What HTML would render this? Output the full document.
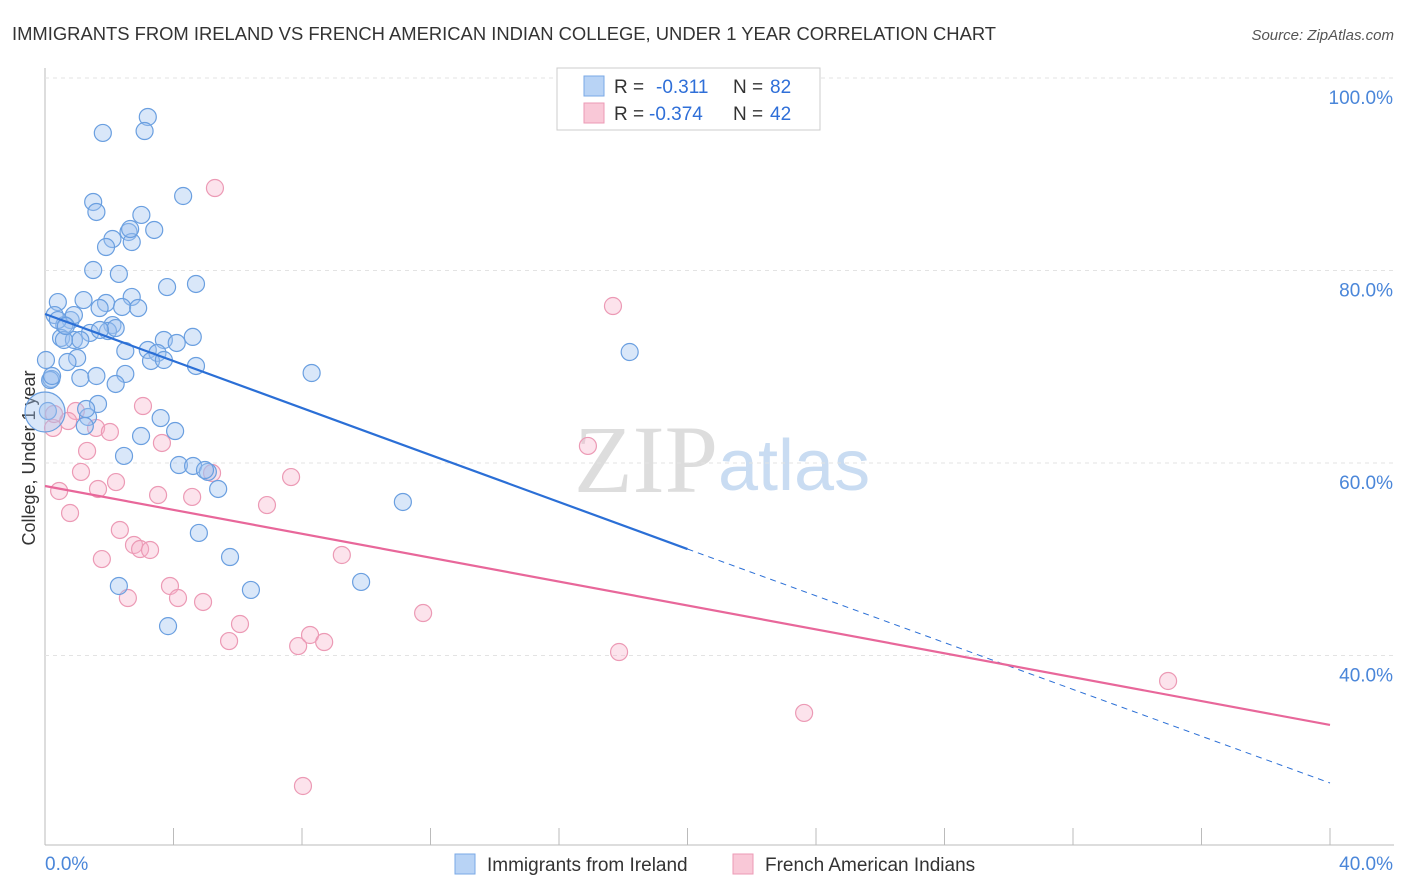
<!DOCTYPE html>
<html><head><meta charset="utf-8">
<style>
body{margin:0;background:#fff;font-family:"Liberation Sans",sans-serif;}
#wrap{position:relative;width:1406px;height:892px;overflow:hidden;}
</style></head>
<body>
<div id="wrap">
<svg id="svg" width="1406" height="892" xmlns="http://www.w3.org/2000/svg">
<text x="12" y="40" font-size="18.4" fill="#333">IMMIGRANTS FROM IRELAND VS FRENCH AMERICAN INDIAN COLLEGE, UNDER 1 YEAR CORRELATION CHART</text>
<text x="1394" y="40" font-size="15" fill="#555" font-style="italic" text-anchor="end">Source: ZipAtlas.com</text>
<text x="718" y="492" font-size="96" fill="#ddd" text-anchor="end" font-family="Liberation Serif,serif">ZIP</text>
<text x="718" y="490" font-size="72" fill="#c9dcf2">atlas</text>
<text x="35" y="458" font-size="18" fill="#333" text-anchor="middle" transform="rotate(-90 35 458)">College, Under 1 year</text>
<g id="grid"></g><g id="dots"></g><g id="lines"></g>
<g>
<rect x="557" y="68" width="263" height="62" fill="#fff" stroke="#ccc"/>
<rect x="584" y="76" width="20" height="20" fill="#b8d3f5" stroke="#7aa8e6"/>
<text x="614" y="93" font-size="19" fill="#333">R = </text><text x="656" y="93" font-size="19" fill="#2f6fd8">-0.311</text>
<text x="733" y="93" font-size="19" fill="#333">N = </text><text x="770" y="93" font-size="19" fill="#2f6fd8">82</text>
<rect x="584" y="103" width="20" height="20" fill="#f9c8d7" stroke="#ec9ab5"/>
<text x="614" y="120" font-size="19" fill="#333">R = </text><text x="649" y="120" font-size="19" fill="#2f6fd8">-0.374</text>
<text x="733" y="120" font-size="19" fill="#333">N = </text><text x="770" y="120" font-size="19" fill="#2f6fd8">42</text>
</g>
<g>
<rect x="455" y="854" width="20" height="20" fill="#b8d3f5" stroke="#7aa8e6"/>
<text x="487" y="871" font-size="19" fill="#333">Immigrants from Ireland</text>
<rect x="733" y="854" width="20" height="20" fill="#f9c8d7" stroke="#ec9ab5"/>
<text x="765" y="871" font-size="19" fill="#333">French American Indians</text>
</g>
</svg>
</div>
<script>
const xTicks=[0,4,8,12,16,20,24,28,32,36,40];
const yTicks=[40,60,80,100];
const yTickLabels=["40.0%","60.0%","80.0%","100.0%"];
const blueX=[1.8,3.2,3.1,4.3,1.5,1.6,3.0,2.6,3.4,2.1,1.9,2.7,1.5,2.3,4.7,3.8,0.4,1.2,1.9,2.7,1.7,2.4,2.9,0.3,0.8,0.6,0.9,2.1,1.96,2.2,1.4,4.6,0.5,0.9,1.1,3.7,4.1,2.5,3.2,3.5,0.03,1.0,0.7,3.3,3.7,4.7,8.3,18.2,0.2,1.1,1.6,2.5,2.2,1.65,1.34,3.6,1.24,4.05,2.99,2.46,4.17,4.61,5.07,5.39,11.14,4.79,5.76,2.3,6.41,9.84,3.83,0.09,0.16,0.0,0.59,1.71,0.4,0.65,2.65,0.22,1.28,4.98];
const blueY=[94.29,95.95,94.49,87.74,87.12,86.08,85.77,84.0,84.21,83.27,82.44,82.96,80.05,79.64,78.6,78.28,76.72,76.93,76.62,77.25,76.1,76.21,76.1,75.37,74.85,74.33,75.37,74.33,73.71,74.02,73.51,73.1,72.99,72.78,72.78,72.78,72.47,71.64,71.74,71.43,70.7,70.91,70.49,70.6,70.7,70.08,69.35,71.53,68.73,68.83,69.04,69.25,68.21,66.13,64.78,64.67,63.84,63.32,62.8,60.73,59.79,59.69,59.07,57.3,55.95,52.73,50.23,47.22,46.81,47.64,43.05,65.4,68.62,65.3,72.78,73.82,74.85,74.23,84.31,69.04,65.61,59.27];
const pinkX=[5.29,17.68,3.05,0.96,0.72,1.59,0.25,2.02,3.64,1.31,1.12,5.2,7.66,1.65,0.44,2.21,3.52,4.58,6.91,0.78,2.33,2.77,2.96,3.27,1.77,9.24,16.9,3.89,4.14,2.58,4.92,11.77,6.07,5.73,7.88,8.25,8.69,17.87,34.96,23.63,8.03,0.28];
const pinkY=[88.57,76.31,65.92,65.4,64.36,63.64,63.64,63.22,62.08,61.25,59.07,58.96,58.54,57.3,57.09,58.02,56.67,56.47,55.63,54.8,53.04,51.48,51.06,50.96,50.02,50.44,61.77,47.22,45.97,45.97,45.56,44.41,43.27,41.5,40.98,42.13,41.4,40.36,37.35,34.03,26.44,65.09];
const X=v=>45+v/40*1285, Y=v=>78+(100-v)/0.1039;
const NS="http://www.w3.org/2000/svg";
function mk(t,a,p){const e=document.createElementNS(NS,t);for(const k in a)e.setAttribute(k,a[k]);p.appendChild(e);return e;}
const grid=document.getElementById('grid');
mk('line',{x1:45,y1:845,x2:1394,y2:845,stroke:'#bbb'},grid);
mk('line',{x1:45,y1:68,x2:45,y2:845,stroke:'#bbb'},grid);
yTicks.forEach((t,i)=>{
 const g=mk('line',{x1:45,y1:Y(t),x2:1394,y2:Y(t),stroke:'#e3e3e3','stroke-dasharray':'4,4'},grid);
 
 
 const l=mk('text',{x:1393,y:Y(t)+26,'font-size':19,fill:'#4a86d9','text-anchor':'end'},grid);
 l.textContent=yTickLabels[i];
 
 
});
xTicks.forEach(t=>{
 const k=mk('line',{x1:X(t),y1:828,x2:X(t),y2:845,stroke:'#bbb'},grid);
 
 
});
const xl0=mk('text',{x:45,y:870,'font-size':19,fill:'#4a86d9'},grid);xl0.textContent='0.0%';


const xl1=mk('text',{x:1393,y:870,'font-size':19,fill:'#4a86d9','text-anchor':'end'},grid);xl1.textContent='40.0%';


const dots=document.getElementById('dots');
pinkX.forEach((x,i)=>{const c=mk('circle',{cx:X(x),cy:Y(pinkY[i]),r:8.5,fill:'rgba(246,176,200,0.35)',stroke:'#ec9ab5','stroke-width':1.2},dots);
 
 });
blueX.forEach((x,i)=>{const c=mk('circle',{cx:X(x),cy:Y(blueY[i]),r:(i==73?20:8.5),fill:'rgba(160,196,240,0.4)',stroke:'#6a9fe0','stroke-width':1.2},dots);
 
 });
const lines=document.getElementById('lines');
let b=mk('line',{x1:X(0),y1:Y(75.48),x2:X(20),y2:Y(51.06),stroke:'#2b6fd6','stroke-width':2.2},lines);


b=mk('line',{x1:X(20),y1:Y(51.06),x2:X(40),y2:Y(26.75),stroke:'#2b6fd6','stroke-width':1,'stroke-dasharray':'6,5'},lines);


b=mk('line',{x1:X(0),y1:Y(57.61),x2:X(40),y2:Y(32.78),stroke:'#e8679a','stroke-width':2.2},lines);


</script>
</body></html>
